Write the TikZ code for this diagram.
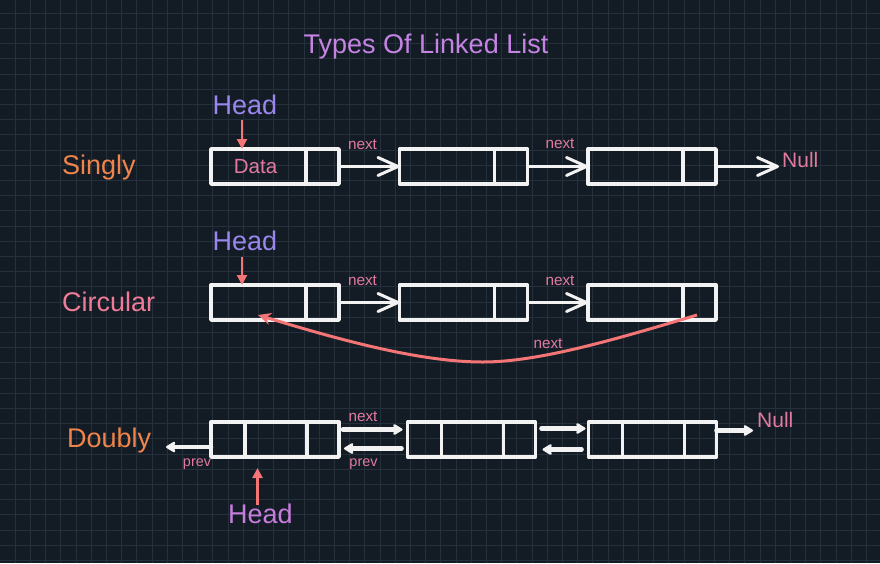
\documentclass[tikz,border=0pt]{standalone}
\usepackage{fontspec}
\setmainfont{Liberation Sans}
\usetikzlibrary{positioning}
\usetikzlibrary{arrows.meta}

\definecolor{board}{HTML}{131C25}
\definecolor{gridcol}{HTML}{24303B}
\definecolor{chalk}{HTML}{F2F2F2}
\definecolor{titlecol}{HTML}{C583E3}
\definecolor{headcol}{HTML}{9A86EE}
\definecolor{headcolb}{HTML}{C77DDE}
\definecolor{orangecol}{HTML}{F0844A}
\definecolor{pinkcol}{HTML}{F07B96}
\definecolor{labelcol}{HTML}{E27AA0}
\definecolor{salmon}{HTML}{F47575}

\begin{document}
\begin{tikzpicture}[x=1pt, y=-1pt,
        cell/.style = {draw=chalk, line width=3.4pt, line join=round, minimum width=128pt, minimum height=35pt, inner sep=0pt, outer sep=0pt},
        wall/.style = {draw=chalk, line width=3.9pt},
        big/.style = {font=\fontsize{27}{30}\selectfont, inner sep=0pt, anchor=base},
        small/.style = {text=labelcol, inner sep=0pt, anchor=base},
        chev/.style = {chalk, line width=3pt, -{Straight Barb[length=20pt, width=18pt, round]}},
        dbl/.style = {chalk, line width=4.6pt, line cap=round, -{Stealth[length=11pt, width=13pt, inset=2pt, round]}},
        headarrow/.style = {salmon, line width=2.3pt, -{Triangle[length=10pt, width=10pt]}}]

        \useasboundingbox (0,0) rectangle (880,563);
        \fill[board] (0,0) rectangle (880,563);
        \foreach \i in {1,...,57}
            \draw[gridcol, line width=0.8pt] (\i*15.2,0) -- (\i*15.2,563);
        \foreach \i in {1,...,37}
            \draw[gridcol, line width=0.8pt] (0,\i*15.2-2) -- (880,\i*15.2-2);

        %title
        \node[big, text=titlecol] (title) at (426,53) {Types Of Linked List};

        %singly
        \node[big, text=orangecol, anchor=base west] (singly) at (62,174) {Singly};
        \node[cell] (s1) at (275,166.5) {};
        \node[cell] (s2) [right = 60.5pt of s1] {};
        \node[cell] (s3) [right = 60.5pt of s2] {};
        \node[small, font=\fontsize{20.5}{22}\selectfont] (data) at (255.5,173) {Data};
        \node[big, text=headcol] (head1) at (245,114) {Head};
        \node[small, font=\fontsize{15.3}{17}\selectfont] (snext1) at (362.5,149) {next};
        \node[small, font=\fontsize{15.3}{17}\selectfont] (snext2) at (560,148) {next};
        \node[small, font=\fontsize{21}{23}\selectfont, anchor=base west] (null1) at (782,167) {Null};

        %circular
        \node[big, text=pinkcol, anchor=base west] (circular) at (62,311) {Circular};
        \node[cell] (c1) at (275,302.5) {};
        \node[cell] (c2) [right = 60.5pt of c1] {};
        \node[cell] (c3) [right = 60.5pt of c2] {};
        \node[big, text=headcol] (head2) at (245,250) {Head};
        \node[small, font=\fontsize{15.3}{17}\selectfont] (cnext1) at (362.5,285) {next};
        \node[small, font=\fontsize{15.3}{17}\selectfont] (cnext2) at (560,285) {next};
        \node[small, font=\fontsize{15.3}{17}\selectfont] (cnext3) at (548,348) {next};

        %doubly
        \node[big, text=orangecol, anchor=base west] (doubly) at (67,447) {Doubly};
        \node[cell] (d1) at (275,439.5) {};
        \node[cell] (d2) [right = 68.5pt of d1] {};
        \node[cell] (d3) [right = 53pt of d2] {};
        \node[big, text=headcolb] (head3) at (260.5,523) {Head};
        \node[small, font=\fontsize{15.3}{17}\selectfont] (dnext) at (363,421) {next};
        \node[small, font=\fontsize{14.4}{16}\selectfont] (dprev) at (363.5,466) {prev};
        \node[small, font=\fontsize{14.4}{16}\selectfont] (dprev0) at (197,466) {prev};
        \node[small, font=\fontsize{21}{23}\selectfont, anchor=base west] (null2) at (757,427) {Null};
        \coordinate (nil) at (166,447);

        %cell walls
        \foreach \n in {s1,s2,s3,c1,c2,c3}
            \draw[wall] ([xshift=-33pt]\n.north east) -- ([xshift=-33pt]\n.south east);
        \foreach \n in {d1,d2,d3} {
            \draw[wall] ([xshift=34pt]\n.north west) -- ([xshift=34pt]\n.south west);
            \draw[wall] ([xshift=-32pt]\n.north east) -- ([xshift=-32pt]\n.south east);
        }

        %edges
        \draw[chev] (s1) -- (s2);
        \draw[chev] (s2) -- (s3);
        \draw[chev] (s3.east) -- ([xshift=-3pt]s3.east -| null1.west);
        \draw[headarrow] ([xshift=-3pt, yshift=-6pt]head1.south) -- ([xshift=-3pt]head1.south |- s1.north);

        \draw[chev] (c1) -- (c2);
        \draw[chev] (c2) -- (c3);
        \draw[headarrow] ([xshift=-3pt, yshift=-7pt]head2.south) -- ([xshift=-3pt]head2.south |- c1.north);
        \draw[salmon, line width=3pt, -{Stealth[length=13pt, width=12pt]}]
            ([xshift=45pt, yshift=-12.5pt]c3.center) .. controls (620,338) and (540,362) .. (483,362)
            .. controls (420,362) and (340,340) .. ([xshift=-17pt, yshift=-12.5pt]c1.center);

        \draw[dbl] ([xshift=4pt, yshift=10pt]d1.east) -- ([xshift=-5pt, yshift=10pt]d2.west);
        \draw[dbl] ([xshift=-6pt, yshift=-9pt]d2.west) -- ([xshift=5pt, yshift=-9pt]d1.east);
        \draw[dbl] ([xshift=6pt, yshift=11pt]d2.east) -- ([xshift=-3pt, yshift=11pt]d3.west);
        \draw[dbl] ([xshift=-7pt, yshift=-10pt]d3.west) -- ([xshift=7pt, yshift=-10pt]d2.east);
        \draw[dbl] ([yshift=-7.5pt]d1.west) -- (nil);
        \draw[dbl] ([yshift=9pt]d3.east) -- ([xshift=-4pt, yshift=9pt]d3.east -| null2.west);
        \draw[headarrow, shorten >=11pt] ([xshift=-3pt, yshift=-2pt]head3.north) -- ([xshift=-3pt]head3.north |- d1.south);

\end{tikzpicture}
\end{document}
